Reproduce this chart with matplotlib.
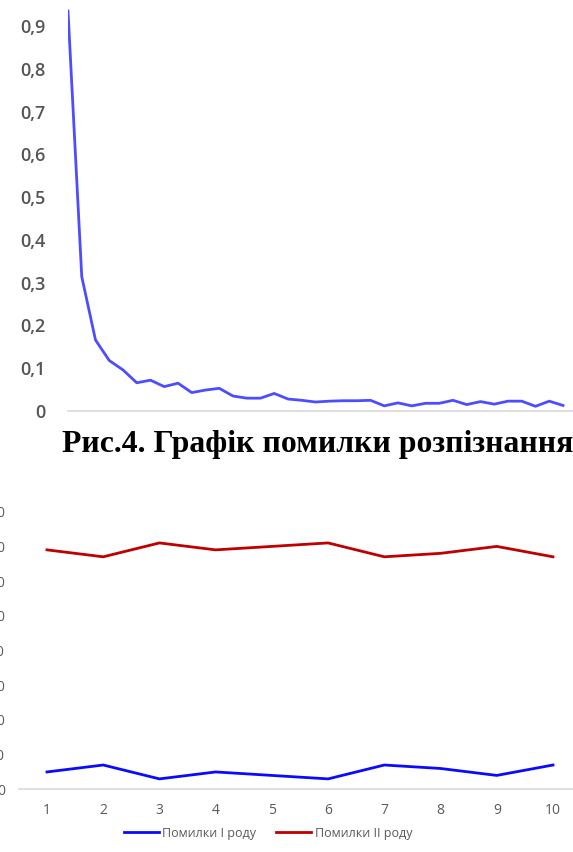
import matplotlib
matplotlib.use("Agg")
import matplotlib.pyplot as plt
from matplotlib.ticker import FuncFormatter

# top chart: recognition error per epoch
epoch_error = [0.935, 0.314, 0.166, 0.118, 0.096, 0.066, 0.072, 0.057, 0.065, 0.043,
               0.049, 0.053, 0.035, 0.030, 0.030, 0.041, 0.028, 0.025, 0.021, 0.023,
               0.024, 0.024, 0.025, 0.012, 0.019, 0.012, 0.018, 0.018, 0.025, 0.015,
               0.022, 0.016, 0.023, 0.023, 0.011, 0.023, 0.013]
top_ticks = [0, 0.1, 0.2, 0.3, 0.4, 0.5, 0.6, 0.7, 0.8, 0.9]

# bottom chart: type I / type II errors per run
runs = [1, 2, 3, 4, 5, 6, 7, 8, 9, 10]
errors_1 = [5, 7, 3, 5, 4, 3, 7, 6, 4, 7]
errors_2 = [69, 67, 71, 69, 70, 71, 67, 68, 70, 67]
bottom_ticks = [0, 10, 20, 30, 40, 50, 60, 70, 80]

caption = "Рис.4. Графік помилки розпізнання"
legend_labels = ["Помилки I роду", "Помилки II роду"]

W, H = 573, 852
fig = plt.figure(figsize=(W / 100, H / 100), dpi=100)
gray = "#595959"
axis_gray = "#d9d9d9"

# ---- top chart
step = 13.75
ax = fig.add_axes([68 / W, 441 / H, 560 / W, 427.8 / H])
ax.plot(range(1, len(epoch_error) + 1), epoch_error, color="#4d4dff", lw=2.0,
        solid_joinstyle="round")
ax.set_xlim(1, 1 + 560 / step)
ax.set_ylim(0, 1)
ax.set_yticks(top_ticks)
ax.yaxis.set_major_formatter(FuncFormatter(lambda v, p: "0" if v == 0 else f"{v:.1f}".replace(".", ",")))
ax.set_xticks([])
ax.tick_params(axis="y", length=0, pad=16, labelsize=13, labelcolor="#555555")
for lab in ax.get_yticklabels():
    lab.set_family("Open Sans")
    lab.set_weight("semibold")
for s in ["left", "top", "right"]:
    ax.spines[s].set_visible(False)
ax.spines["bottom"].set_color(axis_gray)
ax.spines["bottom"].set_linewidth(1.2)

# ---- caption
fig.text(62 / W, 1 - 452 / H, caption, family="Liberation Serif", weight="bold",
         fontsize=22.9, va="baseline", ha="left")

# ---- bottom chart
sp = 56.22
left_px = 47 - sp / 2
ax2 = fig.add_axes([left_px / W, (H - 789.3) / H, sp * 10 / W, 277.6 / H])
l1, = ax2.plot(runs, errors_1, color="#0a0aff", lw=2.0)
l2, = ax2.plot(runs, errors_2, color="#c00000", lw=2.0)
ax2.set_xlim(0.5, 10.5)
ax2.set_ylim(0, 80)
ax2.set_xticks(runs)
ax2.set_yticks(bottom_ticks)
ax2.tick_params(axis="both", length=0, labelsize=10, labelcolor=gray)
ax2.tick_params(axis="y", pad=10)
ax2.tick_params(axis="x", pad=10)
for lab in ax2.get_xticklabels() + ax2.get_yticklabels():
    lab.set_family("Open Sans")
for s in ["left", "top", "right"]:
    ax2.spines[s].set_visible(False)
ax2.spines["bottom"].set_color(axis_gray)
ax2.spines["bottom"].set_linewidth(1.2)

fig.legend([l1, l2], legend_labels, loc="center", bbox_to_anchor=(268 / W, 1 - 833 / H),
           ncol=2, frameon=False, handlelength=2.8, handletextpad=0.3, columnspacing=1.6,
           prop={"family": "Open Sans", "size": 9}, labelcolor=gray)

fig.savefig("out.png", dpi=100)
